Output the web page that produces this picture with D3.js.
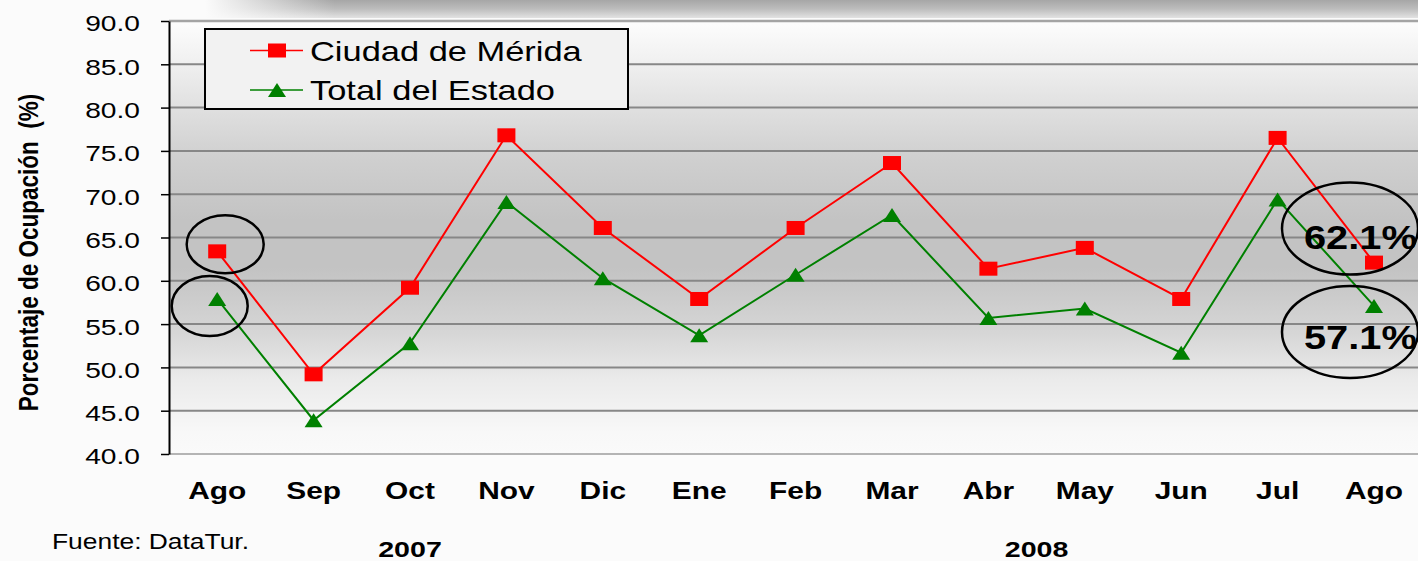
<!DOCTYPE html>
<html>
<head>
<meta charset="utf-8">
<script src="https://cdn.jsdelivr.net/npm/d3@7"></script>
<style>
  body { margin: 0; background: #fbfbfb; }
  svg { display: block; font-family: Arial, "Liberation Sans", sans-serif; }
</style>
</head>
<body>
<svg id="chart"></svg>
<script>
// data
const months = ["Ago", "Sep", "Oct", "Nov", "Dic", "Ene", "Feb", "Mar", "Abr", "May", "Jun", "Jul", "Ago"];
const merida = [63.4, 49.2, 59.2, 76.8, 66.1, 57.9, 66.1, 73.6, 61.4, 63.8, 57.9, 76.5, 62.1];
const estado = [57.9, 43.9, 52.8, 69.1, 60.3, 53.7, 60.7, 67.6, 55.7, 56.8, 51.7, 69.4, 57.1];
const yTicks = [40, 45, 50, 55, 60, 65, 70, 75, 80, 85, 90];
const seriesNames = ["Ciudad de Mérida", "Total del Estado"];
const years = [{label: "2007", from: 0, to: 4}, {label: "2008", from: 5, to: 12}];
const yTitle = "Porcentaje de Ocupación  (%)";
const source = "Fuente: DataTur.";

width = 1418
height = 561
left = 169
top0 = 21
bottom = 454
step = 96.4

const svg = d3.select("#chart")
  .attr("width", width)
  .attr("height", height);

const defs = svg.append("defs");

// plot background: light at top and bottom, grey in the middle
const bg = defs.append("linearGradient").attr("id", "plotbg")
  .attr("x1", 0).attr("y1", 0).attr("x2", 0).attr("y2", 1);
[[0, "#fdfdfd"], [0.09, "#f1f1f1"], [0.2, "#e0e0e0"], [0.32, "#cfcfcf"], [0.46, "#c3c3c3"],
 [0.57, "#c3c3c3"], [0.72, "#d6d6d6"], [0.83, "#ebebeb"], [0.95, "#f8f8f8"], [1, "#fafafa"]]
  .forEach(s => bg.append("stop").attr("offset", s[0]).attr("stop-color", s[1]));

const band = defs.append("linearGradient").attr("id", "topband")
  .attr("x1", 0).attr("y1", 0).attr("x2", 0).attr("y2", 1);
[[0, "#a6a6a6"], [0.5, "#bdbdbd"], [1, "#e2e2e2"]]
  .forEach(s => band.append("stop").attr("offset", s[0]).attr("stop-color", s[1]));

const fade = defs.append("linearGradient").attr("id", "fade")
  .attr("x1", 0).attr("y1", 0).attr("x2", 1).attr("y2", 0);
[[0, "#fbfbfb", 1], [1, "#fbfbfb", 0]]
  .forEach(s => fade.append("stop").attr("offset", s[0]).attr("stop-color", s[1]).attr("stop-opacity", s[2]));

// header shadow across the top
svg.append("rect").attr("x", 205).attr("y", 0).attr("width", width - 205).attr("height", 18)
  .attr("fill", "url(#topband)");
svg.append("rect").attr("x", 205).attr("y", 0).attr("width", 130).attr("height", 18)
  .attr("fill", "url(#fade)");

const x = d3.scaleBand()
  .domain(d3.range(months.length))
  .range([left, left + months.length * step]);
const cx = i => x(i) + x.bandwidth() / 2;

const y = d3.scaleLinear()
  .domain([40, 90])
  .range([bottom, top0]);

svg.append("rect")
  .attr("x", left).attr("y", y(90))
  .attr("width", width - left).attr("height", y(40) - y(90))
  .attr("fill", "url(#plotbg)");

// gridlines
svg.append("g")
  .selectAll("line")
  .data(yTicks)
  .join("line")
  .attr("x1", left).attr("x2", width)
  .attr("y1", d => y(d)).attr("y2", d => y(d))
  .attr("stroke", d => d == 90 ? "#a4a4a4" : d == 40 ? "#b4b4b4" : "#878787")
  .attr("stroke-width", d => d == 90 ? 2.5 : 2);

// y axis
const yAxis = svg.append("g")
  .attr("transform", `translate(${left},0)`)
  .call(d3.axisLeft(y).tickValues(yTicks).tickFormat(d3.format(".1f")).tickSize(8).tickSizeOuter(0));
yAxis.select(".domain").attr("stroke", "#000").attr("stroke-width", 2);
yAxis.selectAll(".tick line").attr("stroke", "#000").attr("stroke-width", 1.5);
yAxis.selectAll(".tick text")
  .attr("x", 0).attr("dy", "0.36em")
  .attr("transform", "translate(-29,2) scale(1.28,1)")
  .attr("font-size", 22)
  .attr("fill", "#000");

// x axis, labels only
const xAxis = svg.append("g")
  .attr("transform", `translate(0,${bottom})`)
  .call(d3.axisBottom(x).tickFormat(i => months[i]).tickSize(0));
xAxis.select(".domain").remove();
xAxis.selectAll(".tick text")
  .attr("y", 0).attr("dy", 0)
  .attr("transform", "translate(0,45) scale(1.3,1)")
  .attr("font-size", 23)
  .attr("font-weight", "bold")
  .attr("fill", "#000");

// years
svg.append("g")
  .selectAll("text")
  .data(years)
  .join("text")
  .attr("transform", d => `translate(${(cx(d.from) + cx(d.to)) / 2},557) scale(1.3,1)`)
  .attr("text-anchor", "middle")
  .attr("font-size", 22)
  .attr("font-weight", "bold")
  .text(d => d.label);

svg.append("text")
  .attr("transform", "translate(52,549) scale(1.2,1)")
  .attr("font-size", 22)
  .text(source);

// y title
svg.append("text")
  .attr("transform", `translate(38,${(top0 + bottom) / 2 + 15}) rotate(-90) scale(1,1.2)`)
  .attr("text-anchor", "middle")
  .attr("font-size", 22.5)
  .attr("font-weight", "bold")
  .style("white-space", "pre")
  .text(yTitle);

// lines
const line = d3.line().x((d, i) => cx(i)).y(d => y(d));
const colors = ["#ff0000", "#008000"];

[merida, estado].forEach((vals, k) => {
  svg.append("path")
    .datum(vals)
    .attr("fill", "none")
    .attr("stroke", colors[k])
    .attr("stroke-width", 2)
    .attr("d", line);
});

const square = g => g.append("rect")
  .attr("x", -9).attr("y", -7).attr("width", 18).attr("height", 14)
  .attr("fill", "#ff0000");
const triangle = g => g.append("path")
  .attr("d", "M0,-7L9,7L-9,7Z")
  .attr("fill", "#008000");

svg.append("g")
  .selectAll("g")
  .data(merida)
  .join("g")
  .attr("transform", (d, i) => `translate(${cx(i)},${y(d)})`)
  .call(square);

svg.append("g")
  .selectAll("g")
  .data(estado)
  .join("g")
  .attr("transform", (d, i) => `translate(${cx(i)},${y(d)})`)
  .call(triangle);

// circled annotations
const last = months.length - 1;
const ellipse = (ex, ey, rx, ry) => svg.append("ellipse")
  .attr("cx", ex).attr("cy", ey).attr("rx", rx).attr("ry", ry)
  .attr("fill", "none").attr("stroke", "#000").attr("stroke-width", 2.5);

ellipse(cx(0) + 8, y(merida[0]) - 7, 38.5, 29);
ellipse(cx(0) - 7.5, y(estado[0]) + 7, 38, 30);
ellipse(cx(last) - 24, y(merida[last]) - 34, 68, 46);
ellipse(cx(last) - 24, y(estado[last]) + 26, 68, 46);

[[merida, -14], [estado, 43]].forEach(([vals, dy]) => {
  svg.append("text")
    .attr("transform", `translate(${cx(last) - 70},${y(vals[last]) + dy}) scale(1.17,1)`)
    .attr("font-size", 34)
    .attr("font-weight", "bold")
    .text(d3.format(".1f")(vals[last]) + "%");
});

// legend
const legend = svg.append("g");
legend.append("rect")
  .attr("x", 205).attr("y", 29).attr("width", 423).attr("height", 80)
  .attr("fill", "#f2f2f2").attr("stroke", "#000").attr("stroke-width", 2);

const item = legend.selectAll("g")
  .data(seriesNames)
  .join("g")
  .attr("transform", (d, i) => `translate(277,${50.5 + i * 39.5})`);
item.append("line")
  .attr("x1", -27).attr("x2", 26)
  .attr("stroke", (d, i) => colors[i]).attr("stroke-width", 1.5);
item.filter((d, i) => i == 0).call(square);
item.filter((d, i) => i == 1).call(triangle);
item.append("text")
  .attr("transform", "translate(33,10) scale(1.23,1)")
  .attr("font-size", 28)
  .text(d => d);
</script>
</body>
</html>
